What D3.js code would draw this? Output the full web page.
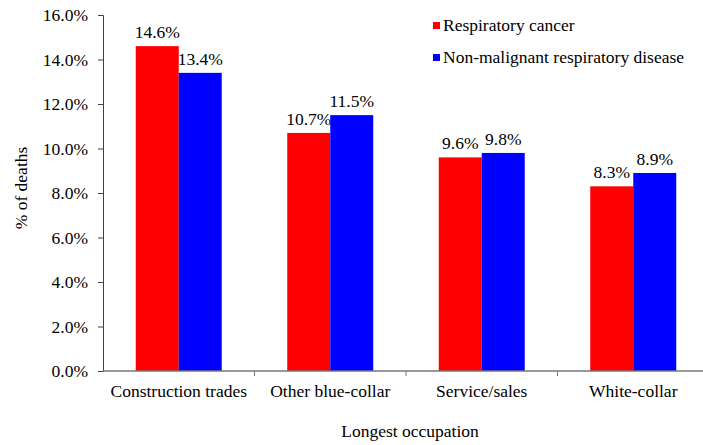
<!DOCTYPE html>
<html>
<head>
<meta charset="utf-8">
<script src="https://cdn.jsdelivr.net/npm/d3@7"></script>
<style>
  body { margin: 0; background: #fff; }
</style>
</head>
<body>
<div id="chart"></div>
<script>
// Data
const categories = ["Construction trades", "Other blue-collar", "Service/sales", "White-collar"];
const seriesNames = ["Respiratory cancer", "Non-malignant respiratory disease"];
const respiratoryCancer = [14.6, 10.7, 9.6, 8.3];
const nonMalignant = [13.4, 11.5, 9.8, 8.9];
const yTicks = [0, 2, 4, 6, 8, 10, 12, 14, 16];
const colors = ["#ff0000", "#0000ff"];

const width = 703, height = 445;
const plotLeft = 103, plotBottom = 371, plotTop = 15;
const catWidth = 151.5;
const fontFamily = "'Liberation Serif', 'Times New Roman', serif";
const fontSize = "17.5px";

const svg = d3.select("#chart").append("svg")
  .attr("width", width)
  .attr("height", height);

// helper so every label gets the serif font
function styleText(sel) {
  return sel.style("font-family", fontFamily)
    .style("font-size", fontSize)
    .style("fill", "#000");
}

const x = d3.scaleBand()
  .domain(categories)
  .range([plotLeft, plotLeft + catWidth * categories.length]);

const sub = d3.scaleBand()
  .domain(seriesNames)
  .range([0, 86]);

const y = d3.scaleLinear()
  .domain([0, 16])
  .range([plotBottom, plotTop]);

const series = [respiratoryCancer, nonMalignant];

// bars + value labels
series.forEach((vals, si) => {
  const bx = i => x(categories[i]) + x.bandwidth() / 2 - 43 + sub(seriesNames[si]);

  svg.append("g").selectAll("rect")
    .data(vals)
    .join("rect")
    .attr("x", (d, i) => bx(i))
    .attr("y", d => y(d))
    .attr("width", sub.bandwidth())
    .attr("height", d => plotBottom - y(d))
    .attr("fill", colors[si]);

  svg.append("g").selectAll("text")
    .data(vals)
    .join("text")
    .attr("x", (d, i) => bx(i) + sub.bandwidth() / 2)
    .attr("y", d => y(d) - 8)
    .attr("text-anchor", "middle")
    .call(styleText)
    .text(d => d.toFixed(1) + "%");
});

// y axis
const yAxis = d3.axisLeft(y)
  .tickValues(yTicks)
  .tickSize(5)
  .tickPadding(10)
  .tickFormat(d => d.toFixed(1) + "%");
const gy = svg.append("g")
  .attr("transform", `translate(${plotLeft},0)`)
  .call(yAxis);
gy.select(".domain").attr("stroke", "#444");
gy.selectAll(".tick line").attr("stroke", "#444");
gy.selectAll(".tick text").call(styleText);

// x axis: ticks between categories
const xAxisG = svg.append("g").attr("transform", `translate(0,${plotBottom})`);
xAxisG.append("line")
  .attr("x1", plotLeft).attr("x2", width)
  .attr("stroke", "#777").attr("stroke-width", 1.5);
xAxisG.selectAll("line.sep")
  .data(categories.slice(1))
  .join("line")
  .attr("class", "sep")
  .attr("x1", d => x(d)).attr("x2", d => x(d))
  .attr("y1", 0).attr("y2", 5)
  .attr("stroke", "#777");
xAxisG.selectAll("text")
  .data(categories)
  .join("text")
  .attr("x", d => x(d) + x.bandwidth() / 2)
  .attr("y", 26)
  .attr("text-anchor", "middle")
  .call(styleText)
  .text(d => d);

// axis titles
svg.append("text")
  .attr("x", 410)
  .attr("y", 437)
  .attr("text-anchor", "middle")
  .call(styleText)
  .text("Longest occupation");

svg.append("text")
  .attr("transform", "translate(27,188) rotate(-90)")
  .attr("text-anchor", "middle")
  .call(styleText)
  .text("% of deaths");

// legend
const legend = svg.append("g").attr("transform", "translate(433,0)");
seriesNames.forEach((name, i) => {
  const ly = 25 + i * 32;
  legend.append("rect")
    .attr("x", 0).attr("y", ly - 3)
    .attr("width", 7).attr("height", 7)
    .attr("fill", colors[i]);
  legend.append("text")
    .attr("x", 10).attr("y", ly + 6)
    .call(styleText)
    .text(name);
});
</script>
</body>
</html>
